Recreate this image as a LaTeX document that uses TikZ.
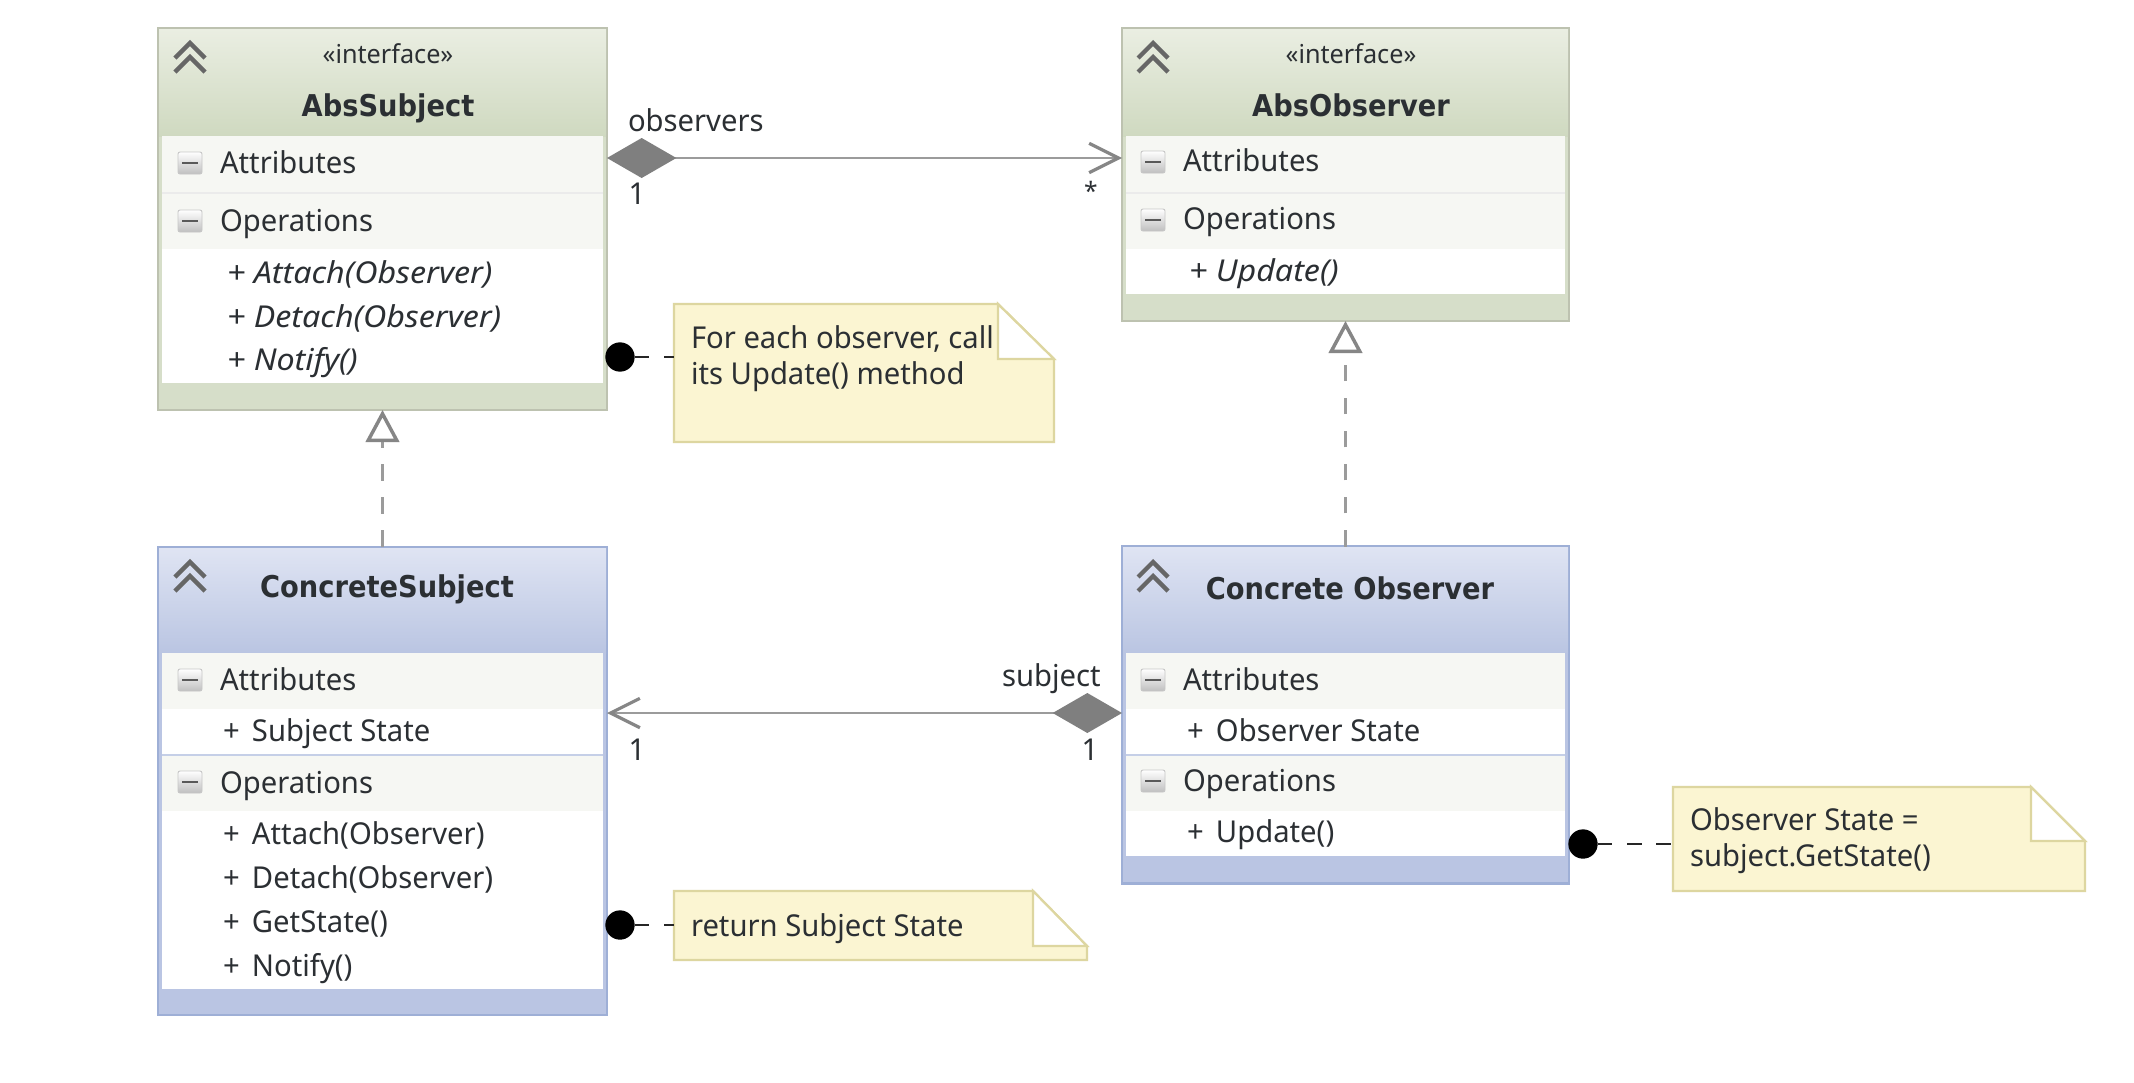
\documentclass[tikz,border=0pt]{standalone}
\usepackage{fontspec}
\setmainfont[FakeStretch=0.97]{Noto Sans}
\newfontfamily\titlefont[FakeStretch=0.91]{DejaVu Sans}
\newfontfamily\opfont[FakeStretch=1.07]{Noto Sans}
\usetikzlibrary{arrows.meta}
\definecolor{grnTop}{HTML}{EAEEE2}
\definecolor{grnBot}{HTML}{CFD9C0}
\definecolor{grnFoot}{HTML}{D6DEC9}
\definecolor{grnLine}{HTML}{BDC2B0}
\definecolor{bluTop}{HTML}{DFE4F3}
\definecolor{bluBot}{HTML}{BAC5E2}
\definecolor{bluFoot}{HTML}{BAC5E3}
\definecolor{bluLine}{HTML}{9EAFD6}
\definecolor{rowFill}{HTML}{F6F7F3}
\definecolor{noteFill}{HTML}{FBF5D2}
\definecolor{noteLine}{HTML}{DDD6A0}
\definecolor{ink}{HTML}{2B2F33}
\definecolor{conn}{HTML}{9B9B9B}
\definecolor{tipc}{HTML}{868686}
\definecolor{dia}{HTML}{7F7F7F}
\tikzset{
  grnbox/.style={rectangle,draw=grnLine,line width=2.2pt,fill=grnFoot,inner sep=0pt,outer sep=0pt},
  blubox/.style={rectangle,draw=bluLine,line width=2.2pt,fill=bluFoot,inner sep=0pt,outer sep=0pt},
  lab/.style={anchor=base west,inner sep=0pt,outer sep=0pt,text=ink,font=\fontsize{22.6}{27}\selectfont},
  labc/.style={lab,anchor=base},
  star/.style={lab,anchor=base,font=\fontsize{19}{23}\selectfont},
  oper/.style={lab,font=\opfont\fontsize{22.6}{27}\selectfont\itshape},
  ttl/.style={anchor=base,inner sep=0pt,outer sep=0pt,text=ink,font=\titlefont\fontsize{22.5}{27}\selectfont\bfseries},
  stereo/.style={anchor=base,inner sep=0pt,outer sep=0pt,text=ink,font=\fontsize{19.5}{23}\selectfont},
  minusbox/.style={rectangle,draw=black!22,line width=.7pt,rounded corners=1.5pt,top color=white,bottom color=black!25,minimum width=18pt,minimum height=16.5pt,inner sep=0pt,outer sep=0pt},
  chev/.style={draw=black!60,line width=3.2pt,line join=miter,fill=none},
  realize/.style={draw=conn,line width=2.6pt,dash pattern=on 12.4pt off 12.4pt,-{Triangle[open,fill=white,color=tipc,length=24pt,width=25pt,line width=2.6pt,sep=7pt]}},
  aggr/.style={draw=conn,line width=2.2pt,{Diamond[fill=dia,color=dia,length=52pt,width=30pt,line width=0pt]}-{Straight Barb[color=tipc,length=22pt,width=22pt,line width=2.4pt]}},
  anchordot/.style={circle,fill=black,minimum size=22pt,inner sep=0pt,outer sep=0pt},
  notelink/.style={draw=black!85,line width=1.9pt,dash pattern=on 11pt off 11pt},
  notearea/.style={rectangle,inner sep=0pt,outer sep=0pt},
  noteshape/.style={draw=noteLine,line width=1.7pt,fill=noteFill},
}
\newcommand{\lab}[5][lab]{\node[#1] (#2) at (#3,#4) {#5};}
\newcommand{\pls}{+ \kern3.5pt}
\newcommand{\dblchev}[2]{%
  \draw[chev] (#1-15,#2) -- (#1,#2-15) -- (#1+15,#2);
  \draw[chev] (#1-15,#2+14) -- (#1,#2-1) -- (#1+15,#2+14);}
\newcommand{\minusb}[3]{\node[minusbox] (#1) at (#2,#3) {};
  \draw[black!65,line width=2pt] ([xshift=-6pt]#1.center) -- ([xshift=6pt]#1.center);}
% \umlnote{name}{x1}{y1}{x2}{y2}{foldx}{foldy}
\newcommand{\umlnote}[7]{%
  \node[notearea,minimum width={(#4-#2)*0.75pt},minimum height={(#5-#3)*0.75pt}] (#1) at ({(#2+#4)/2},{(#3+#5)/2}) {};
  \draw[noteshape] (#2,#3) -- (#6,#3) -- (#4,#7) -- (#4,#5) -- (#2,#5) -- cycle;
  \fill[white] (#6,#3) -- (#4,#7) -- (#6,#7) -- cycle;
  \draw[noteLine,line width=1.7pt] (#6,#3) -- (#6,#7) -- (#4,#7) -- cycle;}
\begin{document}
\begin{tikzpicture}[x=0.75pt,y=-0.75pt]
\useasboundingbox (0,0) rectangle (2134,1082);
\fill[white] (0,0) rectangle (2134,1082);

%% ---------- AbsSubject
\node[grnbox,minimum width=336.75pt,minimum height=286.5pt] (asub) at (382.5,219) {};
\shade[top color=grnTop,bottom color=grnBot] (159,29) rectangle (606,136);
\fill[white] (162,249) rectangle (603,383);
\fill[rowFill] (162,136) rectangle (603,192);
\fill[rowFill] (162,194) rectangle (603,249);
\fill[black!8] (162,192) rectangle (603,194);
\dblchev{190}{58}
\lab[stereo]{asubS}{388}{63}{«interface»}
\lab[ttl]{asubT}{388}{116}{AbsSubject}
\minusb{asubM1}{190}{163}
\lab{asubA}{220}{173}{Attributes}
\minusb{asubM2}{190}{221}
\lab{asubO}{220}{231}{Operations}
\lab[oper]{asubP1}{227}{283}{+ Attach(Observer)}
\lab[oper]{asubP2}{227}{327}{+ Detach(Observer)}
\lab[oper]{asubP3}{227}{370}{+ Notify()}

%% ---------- AbsObserver
\node[grnbox,minimum width=335.25pt,minimum height=219.75pt] (aobs) at (1345.5,174.5) {};
\shade[top color=grnTop,bottom color=grnBot] (1123,29) rectangle (1568,136);
\fill[white] (1126,249) rectangle (1565,294);
\fill[rowFill] (1126,136) rectangle (1565,192);
\fill[rowFill] (1126,194) rectangle (1565,249);
\fill[black!8] (1126,192) rectangle (1565,194);
\dblchev{1153}{58}
\lab[stereo]{aobsS}{1351}{63}{«interface»}
\lab[ttl]{aobsT}{1351}{116}{AbsObserver}
\minusb{aobsM1}{1153}{162}
\lab{aobsA}{1183}{171}{Attributes}
\minusb{aobsM2}{1153}{220}
\lab{aobsO}{1183}{229}{Operations}
\lab[oper]{aobsP1}{1189}{281}{+ Update()}

%% ---------- ConcreteSubject
\node[blubox,minimum width=336.75pt,minimum height=351pt] (csub) at (382.5,781) {};
\shade[top color=bluTop,bottom color=bluBot] (159,548) rectangle (606,653);
\fill[white] (162,709) rectangle (603,989);
\fill[rowFill] (162,653) rectangle (603,709);
\fill[rowFill] (162,755) rectangle (603,811);
\fill[bluLine!60] (162,753.5) rectangle (603,755.5);
\dblchev{190}{577}
\lab[ttl]{csubT}{387}{597}{ConcreteSubject}
\minusb{csubM1}{190}{680}
\lab{csubA}{220}{690}{Attributes}
\lab{csubV}{223}{741}{\pls Subject State}
\minusb{csubM2}{190}{782}
\lab{csubO}{220}{793}{Operations}
\lab{csubP1}{223}{844}{\pls Attach(Observer)}
\lab{csubP2}{223}{888}{\pls Detach(Observer)}
\lab{csubP3}{223}{932}{\pls GetState()}
\lab{csubP4}{223}{976}{\pls Notify()}

%% ---------- Concrete Observer
\node[blubox,minimum width=335.25pt,minimum height=252.75pt] (cobs) at (1345.5,715) {};
\shade[top color=bluTop,bottom color=bluBot] (1123,547) rectangle (1568,653);
\fill[white] (1126,709) rectangle (1565,856);
\fill[rowFill] (1126,653) rectangle (1565,709);
\fill[rowFill] (1126,755) rectangle (1565,811);
\fill[bluLine!60] (1126,753.5) rectangle (1565,755.5);
\dblchev{1153}{577}
\lab[ttl]{cobsT}{1350}{599}{Concrete Observer}
\minusb{cobsM1}{1153}{680}
\lab{cobsA}{1183}{690}{Attributes}
\lab{cobsV}{1187}{741}{\pls Observer State}
\minusb{cobsM2}{1153}{781}
\lab{cobsO}{1183}{791}{Operations}
\lab{cobsP1}{1187}{842}{\pls Update()}

%% ---------- Notes
\umlnote{noteA}{674}{304}{1054}{442}{998}{359}
\lab{noteAa}{691}{348}{For each observer, call}
\lab{noteAb}{691}{384}{its Update() method}
\umlnote{noteB}{674}{891}{1087}{960}{1033}{946}
\lab{noteBa}{691}{936}{return Subject State}
\umlnote{noteC}{1673}{787}{2085}{891}{2031}{841}
\lab{noteCa}{1690}{830}{Observer State =}
\lab{noteCb}{1690}{866}{subject.GetState()}

%% ---------- Connectors
\path (asub.east |- 0,158) coordinate (ag1s) (aobs.west |- 0,158) coordinate (ag1e);
\path (cobs.west |- 0,713) coordinate (ag2s) (csub.east |- 0,713) coordinate (ag2e);
\draw[aggr] (ag1s) -- (ag1e);
\draw[aggr] (ag2s) -- (ag2e);
\draw[realize,shorten >=-7pt] (csub.north) -- (asub.south);
\draw[realize,shorten >=-7pt] (cobs.north) -- (aobs.south);
\lab{lblObs}{628}{131}{observers}
\lab{lblSub}{1002}{686}{subject}
\lab[labc]{m1}{637}{204}{1}
\lab[star]{m2}{1091}{200}{*}
\lab[labc]{m3}{637}{760}{1}
\lab[labc]{m4}{1090}{760}{1}

\node[anchordot] (dotA) at (620,357) {};
\node[anchordot] (dotB) at (620,925) {};
\node[anchordot] (dotC) at (1583,844) {};
\draw[notelink] (dotA) -- (noteA.west |- dotA);
\draw[notelink] (dotB) -- (noteB.west |- dotB);
\draw[notelink] (dotC) -- (noteC.west |- dotC);
\end{tikzpicture}
\end{document}
